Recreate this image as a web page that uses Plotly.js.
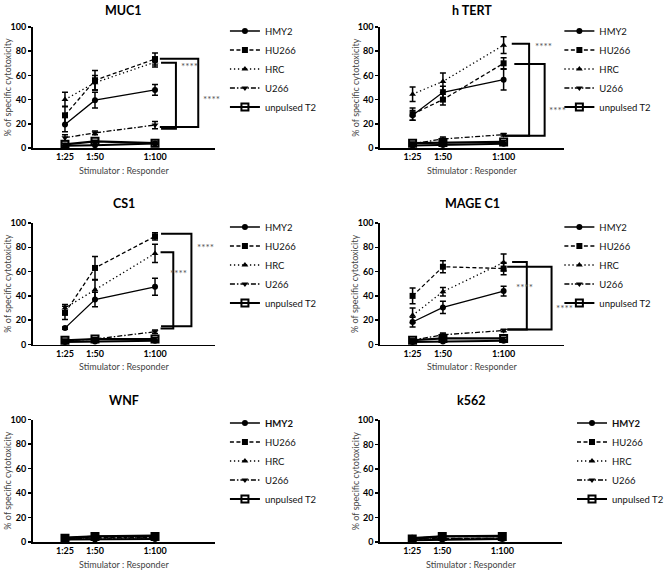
<!DOCTYPE html>
<html><head><meta charset="utf-8">
<script src="https://cdn.plot.ly/plotly-3.0.1.min.js"></script>
<style>html,body{margin:0;padding:0;background:#fff}#chart{width:669px;height:573px}</style>
</head><body><div id="chart"></div>
<script>
// ---------- DATA ----------
const ratios = [25, 50, 100];
const ratioLabels = ['1:25', '1:50', '1:100'];
const seriesNames = ['HMY2', 'HU266', 'HRC', 'U266', 'unpulsed T2'];
const panelTitles = ['MUC1', 'h TERT', 'CS1', 'MAGE C1', 'WNF', 'k562'];

// rows follow seriesNames order
const muc1Means  = [[19.5, 39.5, 48], [27, 56, 73.5], [40, 54, 71], [8.5, 12.5, 19], [3, 5.5, 4]];
const muc1Errors = [[6, 6.5, 4.5], [7.5, 8, 5], [6, 6, 4], [2.5, 1.5, 3], [1, 1, 1]];
const muc1Background = [1.8, 2.2, 3.8];

const htertMeans  = [[27, 46, 56.5], [28, 40, 70], [44.5, 55, 85], [3.5, 7.5, 11], [4, 4.5, 5]];
const htertErrors = [[4, 5, 8.5], [5, 4.5, 4.5], [6, 7, 7], [1, 1.5, 1], [1, 1, 1]];
const htertBackground = [2, 2.5, 3.5];

const cs1Means  = [[13.5, 37, 47.5], [26, 63, 89], [30, 45, 75], [3, 4.5, 10.5], [3.5, 4.5, 4.5]];
const cs1Errors = [[1, 6, 7], [5.5, 9.5, 3], [3, 8, 7.5], [1, 1, 1.5], [1, 1, 1]];
const cs1Background = [2, 2.5, 3];

const magec1Means  = [[18.5, 30.5, 44], [40, 64, 62.5], [24, 43.5, 67.5], [3.5, 8, 11.5], [3.5, 5, 5]];
const magec1Errors = [[4, 5, 4], [6.5, 5, 5], [6, 3.5, 7], [1, 1.5, 1], [1, 1, 1]];
const magec1Background = [2, 2.5, 3];

const wnfMeans  = [[4, 5, 5.5], [2.5, 3.5, 3.5], [2, 2.5, 3], [3, 3, 3.5], [3, 4.5, 4.5]];
const wnfErrors = [[1, 1, 1], [1, 1, 1], [1, 1, 1], [1, 1, 1], [1, 1, 1]];
const wnfBackground = [2, 2, 2.5];

const k562Means  = [[3.5, 5, 5.5], [2, 3, 3], [1.5, 2.5, 2.5], [2.5, 2.5, 3], [2.5, 4.5, 4.5]];
const k562Errors = [[1, 1, 1], [1, 1, 1], [1, 1, 1], [1, 1, 1], [1, 1, 1]];
const k562Background = [1.5, 2, 2.5];

const sigLabel = '****';

// ---------- STYLE / LAYOUT ----------
const W = 669, H = 573;
const FONT = 'Lato, "Open Sans", sans-serif';
const seriesStyle = [
  {dash: 'solid',              symbol: 'circle',        size: 6, width: 1.3},
  {dash: '4px,2.5px',          symbol: 'square',        size: 6, width: 1.3},
  {dash: '1.3px,2.7px',        symbol: 'triangle-up',   size: 6, width: 1.3},
  {dash: '5px,2px,1.5px,2px',  symbol: 'triangle-down', size: 6, width: 1.3},
  {dash: 'solid',              symbol: 'square-open',   size: 7, width: 2.2}
];

// bracket geometry (data units of each panel's axes)
const panelBrackets = [
  [{xl: 105, xr: 117.4, top: 70.5, bot: 16, xlb: 105, tx: 120, ty: 69.7, anchor: 'left'},
   {xl: 104, xr: 136, top: 73.8, bot: 17.4, xlb: 104, tx: 138.5, ty: 42.7, anchor: 'left'}],
  [{xl: 106.7, xr: 121, top: 86.2, bot: 10.2, xlb: 101.2, tx: 124, ty: 86, anchor: 'left'},
   {xl: 108.8, xr: 133.8, top: 69.4, bot: 10.2, xlb: 101.2, tx: 136, ty: 33, anchor: 'left'}],
  [{xl: 105, xr: 130.3, top: 91.2, bot: 15, xlb: 105, tx: 133, ty: 82, anchor: 'left'},
   {xl: 104.6, xr: 115.2, top: 75.9, bot: 13.2, xlb: 104.6, tx: 119.6, ty: 61, anchor: 'center'}],
  [{xl: 107, xr: 119.1, top: 68, bot: 12.4, xlb: 103, tx: 117.5, ty: 49.6, anchor: 'center'},
   {xl: 102.9, xr: 139.5, top: 64, bot: 12.4, xlb: 103, tx: 150, ty: 32, anchor: 'center'}],
  [], []
];

const panels = [
  {means: muc1Means,   errs: muc1Errors,   bg: muc1Background,   xd: [33, 218],  yd: [148, 27],   legX: 228, legY: 69,  titleY: 10,  boldFirst: false},
  {means: htertMeans,  errs: htertErrors,  bg: htertBackground,  xd: [385, 572], yd: [148, 27],   legX: 567, legY: 69,  titleY: 10,  boldFirst: false},
  {means: cs1Means,    errs: cs1Errors,    bg: cs1Background,    xd: [33, 218],  yd: [344.5, 223], legX: 228, legY: 265, titleY: 204, boldFirst: false},
  {means: magec1Means, errs: magec1Errors, bg: magec1Background, xd: [385, 572], yd: [344.5, 223], legX: 567, legY: 265, titleY: 204, boldFirst: false},
  {means: wnfMeans,    errs: wnfErrors,    bg: wnfBackground,    xd: [33, 218],  yd: [542, 419.5], legX: 228, legY: 461, titleY: 400, boldFirst: true},
  {means: k562Means,   errs: k562Errors,   bg: k562Background,   xd: [385, 570], yd: [542, 420],   legX: 580, legY: 461, titleY: 400, boldFirst: true}
];

const traces = [];
const layout = {
  width: W, height: H,
  margin: {l: 0, r: 0, t: 0, b: 0},
  paper_bgcolor: '#fff', plot_bgcolor: 'rgba(0,0,0,0)',
  font: {family: FONT, color: '#000', size: 9},
  showlegend: true,
  annotations: [], shapes: []
};

panels.forEach((p, i) => {
  const n = i + 1, sfx = n === 1 ? '' : String(n);
  const xa = 'x' + sfx, ya = 'y' + sfx, leg = 'legend' + sfx;
  const x0 = p.xd[0] / W, x1 = p.xd[1] / W;
  const y0 = 1 - p.yd[0] / H, y1 = 1 - p.yd[1] / H;

  layout['xaxis' + sfx] = {
    domain: [x0, x1], range: [-2, 150], anchor: ya,
    tickmode: 'array', tickvals: ratios, ticktext: ratioLabels, ticks: '',
    showline: true, linewidth: 1.6, linecolor: '#000', showgrid: false, zeroline: false,
    tickfont: {family: FONT, size: 9, weight: 'bold', color: '#000'}, fixedrange: true
  };
  layout['yaxis' + sfx] = {
    domain: [y0, y1], range: [0, 100], anchor: xa,
    tickmode: 'linear', tick0: 0, dtick: 20, ticks: 'outside', ticklen: 3, tickwidth: 1.5, tickcolor: '#000',
    showline: true, linewidth: 1.6, linecolor: '#000', showgrid: false, zeroline: false,
    tickfont: {family: FONT, size: 9, weight: 'bold', color: '#000'}, fixedrange: true
  };
  layout[leg] = {
    x: p.legX / W, xanchor: 'left', y: 1 - p.legY / H, yanchor: 'middle',
    bgcolor: 'rgba(0,0,0,0)', borderwidth: 0, itemwidth: 30,
    font: {family: FONT, size: 9.5, color: '#111'}, traceorder: 'normal'
  };

  seriesNames.forEach((name, k) => {
    const st = seriesStyle[k];
    traces.push({
      type: 'scatter', mode: 'lines+markers', xaxis: xa, yaxis: ya, legend: leg,
      name: (p.boldFirst && k === 0) ? '<b>' + name + '</b>' : name,
      x: ratios, y: p.means[k],
      error_y: {type: 'data', array: p.errs[k], visible: true, color: '#000', thickness: 1.5, width: 3},
      line: {color: '#000', width: st.width, dash: st.dash},
      marker: {color: '#000', symbol: st.symbol, size: st.size, line: {color: '#000', width: k === 4 ? 2 : 0}},
      cliponaxis: false, hoverinfo: 'skip'
    });
  });
  traces.push({
    type: 'scatter', mode: 'lines+markers', xaxis: xa, yaxis: ya, showlegend: false,
    name: 'background', x: ratios, y: p.bg,
    line: {color: '#000', width: 2}, marker: {color: '#000', symbol: 'circle', size: 6},
    cliponaxis: false, hoverinfo: 'skip'
  });

  // panel title
  layout.annotations.push({
    xref: 'paper', yref: 'paper', x: (x0 + x1) / 2, y: 1 - p.titleY / H,
    xanchor: 'center', yanchor: 'middle', showarrow: false,
    text: '<b>' + panelTitles[i] + '</b>', font: {family: FONT, size: 12.5, color: '#000'}
  });
  // y title
  layout.annotations.push({
    xref: 'paper', yref: 'paper', x: (p.xd[0] - 25) / W, y: (y0 + y1) / 2,
    xanchor: 'center', yanchor: 'middle', showarrow: false, textangle: -90,
    text: '% of specific cytotoxicity', font: {family: FONT, size: 9, color: '#444'}
  });
  // x title
  layout.annotations.push({
    xref: 'paper', yref: 'paper', x: (x0 + x1) / 2, y: 1 - (p.yd[0] + 22) / H,
    xanchor: 'center', yanchor: 'middle', showarrow: false,
    text: 'Stimulator : Responder', font: {family: FONT, size: 9, color: '#444'}
  });

  panelBrackets[i].forEach(b => {
    layout.shapes.push({
      type: 'path', xref: xa, yref: ya,
      path: `M ${b.xl},${b.top} H ${b.xr} V ${b.bot} H ${b.xlb}`,
      line: {color: '#000', width: 2}
    });
    layout.annotations.push({
      xref: xa, yref: ya, x: b.tx, y: b.ty - 2, xanchor: b.anchor, yanchor: 'middle',
      showarrow: false, text: sigLabel, font: {family: FONT, size: 10, color: '#555'}
    });
  });
});

Plotly.newPlot('chart', traces, layout, {staticPlot: true, displayModeBar: false});
</script>
</body></html>
